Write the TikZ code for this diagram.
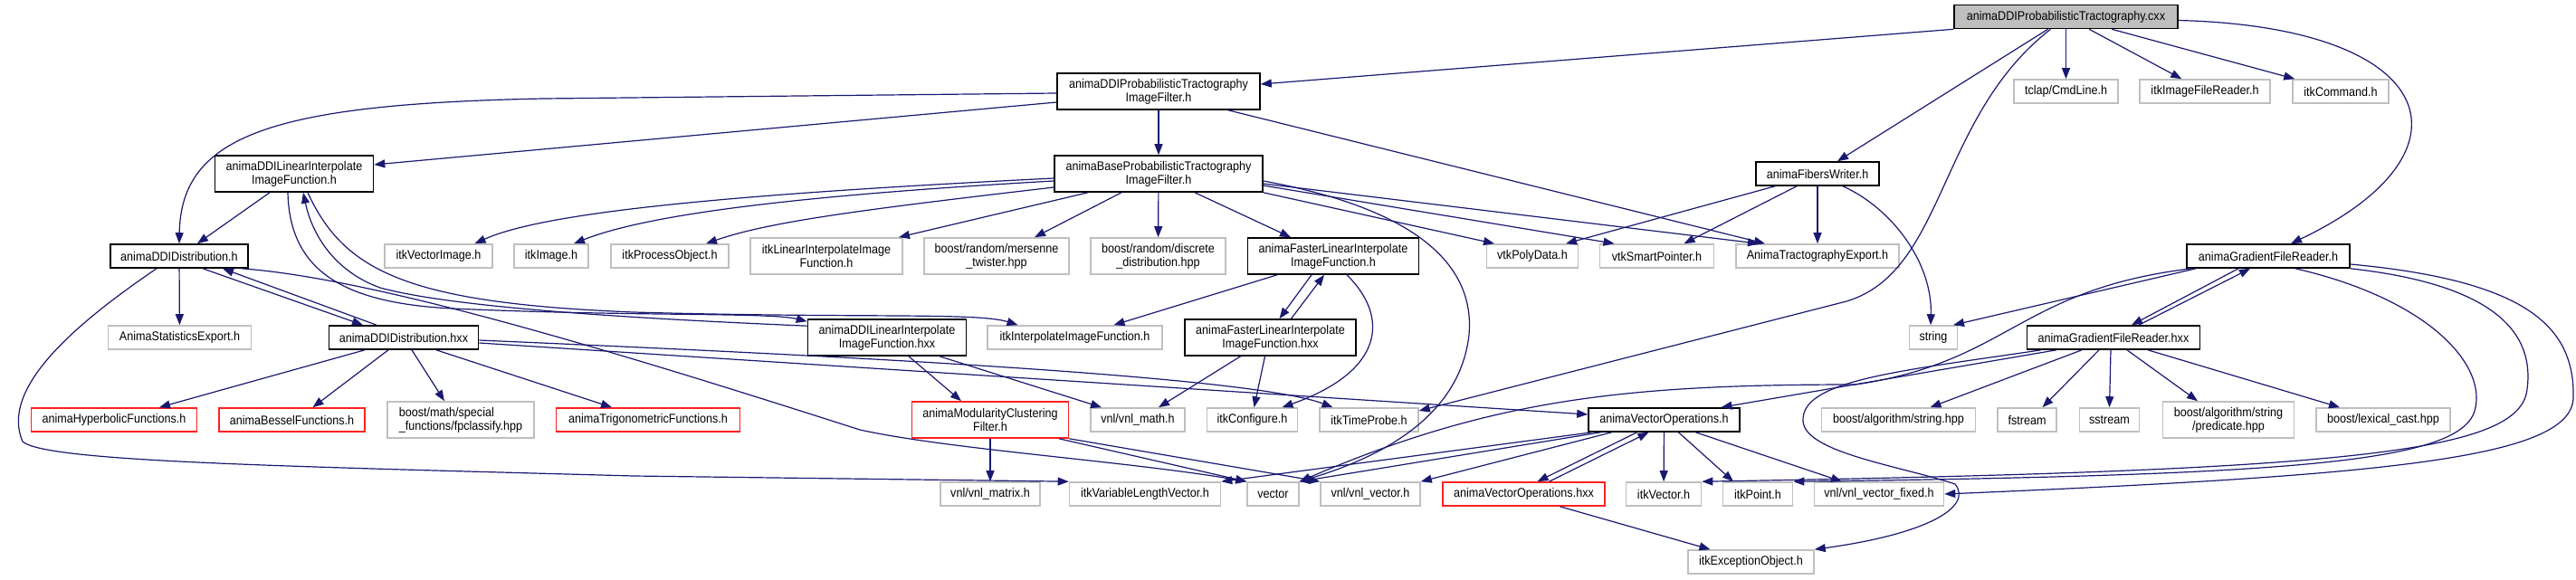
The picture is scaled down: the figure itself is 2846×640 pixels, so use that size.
\documentclass[tikz,border=0pt]{standalone}
\usepackage{fontspec}
\setmainfont{Liberation Sans}[FakeStretch=0.9]
\usepackage{tikz}
\usetikzlibrary{arrows.meta}
\definecolor{edgeblue}{HTML}{191970}
\definecolor{boxgray}{HTML}{BFBFBF}
\definecolor{boxred}{HTML}{FF2020}

\begin{document}
\begin{tikzpicture}[
        x=1pt, y=-1pt,
        box/.style={rectangle, draw, line width=1.6pt, fill=white, inner sep=0pt, align=center, font=\fontsize{14}{15}\selectfont},
        doc/.style={box, draw=black},
        ext/.style={box, draw=boxgray},
        trunc/.style={box, draw=boxred},
        root/.style={box, draw=black, fill=boxgray},
        one/.style={minimum height=26pt},
        two/.style={minimum height=40pt},
        arrow/.style={->, >={Triangle[length=12pt,width=9pt]}, draw=edgeblue, line width=1.2pt}
    ]
    \useasboundingbox (0,0) rectangle (2846,640);

    % Root file
    \node[root, one, minimum width=247pt] (cxx) at (2282.5,18.5) {animaDDIProbabilisticTractography.cxx};

    % First level
    \node[ext, one, minimum width=115pt] (tclap) at (2282.5,101) {tclap/CmdLine.h};
    \node[ext, one, minimum width=144pt] (itkIFR) at (2436,101) {itkImageFileReader.h};
    \node[ext, one, minimum width=106pt] (itkCmd) at (2586,101) {itkCommand.h};
    \node[doc, two, minimum width=224pt] (P) at (1280,101) {animaDDIProbabilisticTractography\\ImageFilter.h};

    % Second level
    \node[doc, one, minimum width=136pt] (FW) at (2008,192) {animaFibersWriter.h};
    \node[doc, two, minimum width=230pt] (B) at (1280,192) {animaBaseProbabilisticTractography\\ImageFilter.h};
    \node[doc, two, minimum width=175pt] (DL) at (325,192) {animaDDILinearInterpolate\\ImageFunction.h};

    % Third level
    \node[doc, one, minimum width=152pt] (DD) at (198,283) {animaDDIDistribution.h};
    \node[ext, one, minimum width=119pt] (itkVI) at (484.5,283) {itkVectorImage.h};
    \node[ext, one, minimum width=82pt] (itkImg) at (609,283) {itkImage.h};
    \node[ext, one, minimum width=130pt] (itkPO) at (740,283) {itkProcessObject.h};
    \node[ext, two, minimum width=168pt] (itkLII) at (913,283) {itkLinearInterpolateImage\\Function.h};
    \node[ext, two, minimum width=160pt] (mt) at (1101,283) {boost/random/mersenne\\\_twister.hpp};
    \node[ext, two, minimum width=149pt] (dd) at (1279.5,283) {boost/random/discrete\\\_distribution.hpp};
    \node[doc, two, minimum width=189pt] (FL) at (1473,283) {animaFasterLinearInterpolate\\ImageFunction.h};
    \node[ext, one, minimum width=101pt] (vtkPD) at (1693,283) {vtkPolyData.h};
    \node[ext, one, minimum width=126pt] (vtkSP) at (1830.5,283) {vtkSmartPointer.h};
    \node[ext, one, minimum width=180pt] (TE) at (2008,283) {AnimaTractographyExport.h};
    \node[doc, one, minimum width=180pt] (GR) at (2506,283) {animaGradientFileReader.h};

    % Fourth level
    \node[ext, one, minimum width=158pt] (ASE) at (198.5,373) {AnimaStatisticsExport.h};
    \node[doc, one, minimum width=165pt] (DDx) at (446,373) {animaDDIDistribution.hxx};
    \node[doc, two, minimum width=175pt] (DLx) at (980,373) {animaDDILinearInterpolate\\ImageFunction.hxx};
    \node[ext, one, minimum width=193pt] (itkIIF) at (1187.5,373) {itkInterpolateImageFunction.h};
    \node[doc, two, minimum width=189pt] (FLx) at (1403.5,373) {animaFasterLinearInterpolate\\ImageFunction.hxx};
    \node[ext, one, minimum width=53pt] (str) at (2136,373) {string};
    \node[doc, one, minimum width=191pt] (GRx) at (2335,373) {animaGradientFileReader.hxx};

    % Fifth level
    \node[trunc, one, minimum width=183pt] (hyp) at (126,464) {animaHyperbolicFunctions.h};
    \node[trunc, one, minimum width=161pt] (bes) at (322.5,464) {animaBesselFunctions.h};
    \node[ext, two, minimum width=162pt, align=left] (fpc) at (509,464) {boost/math/special\\\_functions/fpclassify.hpp};
    \node[trunc, one, minimum width=203pt] (trig) at (716,464) {animaTrigonometricFunctions.h};
    \node[trunc, two, minimum width=173pt] (mod) at (1094,464) {animaModularityClustering\\Filter.h};
    \node[ext, one, minimum width=104pt] (vmath) at (1257,464) {vnl/vnl\_math.h};
    \node[ext, one, minimum width=100pt] (itkCfg) at (1383.5,464) {itkConfigure.h};
    \node[ext, one, minimum width=109pt] (itkTP) at (1512.5,464) {itkTimeProbe.h};
    \node[doc, one, minimum width=167pt] (VO) at (1838.5,464) {animaVectorOperations.h};
    \node[ext, one, minimum width=170pt] (bas) at (2097.5,464) {boost/algorithm/string.hpp};
    \node[ext, one, minimum width=65pt] (fstr) at (2239.5,464) {fstream};
    \node[ext, one, minimum width=66pt] (sstr) at (2330.5,464) {sstream};
    \node[ext, two, minimum width=145pt] (pred) at (2462,464) {boost/algorithm/string\\/predicate.hpp};
    \node[ext, one, minimum width=148pt] (lex) at (2633,464) {boost/lexical\_cast.hpp};

    % Sixth level
    \node[ext, one, minimum width=110pt] (vmat) at (1094,546) {vnl/vnl\_matrix.h};
    \node[ext, one, minimum width=167pt] (itkVLV) at (1265,546) {itkVariableLengthVector.h};
    \node[ext, one, minimum width=57pt] (vec) at (1406.5,546) {vector};
    \node[ext, one, minimum width=110pt] (vvec) at (1514,546) {vnl/vnl\_vector.h};
    \node[trunc, one, minimum width=179pt] (VOx) at (1683.5,546) {animaVectorOperations.hxx};
    \node[ext, one, minimum width=83pt] (itkVec) at (1838,546) {itkVector.h};
    \node[ext, one, minimum width=77pt] (itkPt) at (1942,546) {itkPoint.h};
    \node[ext, one, minimum width=143pt] (vvf) at (2076,546) {vnl/vnl\_vector\_fixed.h};
    \node[ext, one, minimum width=139pt] (itkEO) at (1934.5,621) {itkExceptionObject.h};

    % Arrows from the root
    \draw[arrow] (cxx.south west) -- ([yshift=8pt]P.east);
    \draw[arrow] ([xshift=-20pt]cxx.south) -- ([xshift=22pt]FW.north);
    \draw[arrow] ([xshift=-17pt]cxx.south) .. controls (2140,130) and (2150,300) .. (2040,333) -- ([yshift=10pt]itkTP.east);
    \draw[arrow] (cxx) -- (tclap);
    \draw[arrow] (cxx) -- (itkIFR);
    \draw[arrow] (cxx) -- (itkCmd);
    \draw[arrow] ([yshift=-4pt]cxx.east) .. controls (2700,30) and (2740,170) .. ([xshift=25pt]GR.north);

    % Arrows from the filter
    \draw[arrow] ([yshift=-2pt]P.west) -- (600,109) .. controls (300,115) and (200,150) .. (DD.north);
    \draw[arrow] ([yshift=-12pt]P.west) -- ([yshift=10pt]DL.east);
    \draw[arrow] (P) -- (B);
    \draw[arrow] ([xshift=77pt]P.south) -- ([xshift=-58pt]TE.north);

    % Arrows from the base filter
    \draw[arrow] ([yshift=-5pt]B.west) .. controls (800,215) and (600,235) .. ([xshift=40pt]itkVI.north);
    \draw[arrow] ([yshift=-8pt]B.west) .. controls (900,215) and (720,235) .. ([xshift=25pt]itkImg.north);
    \draw[arrow] ([yshift=-15pt]B.west) .. controls (950,232) and (850,245) .. ([xshift=40pt]itkPO.north);
    \draw[arrow] ([xshift=-78pt]B.south) -- ([xshift=80pt]itkLII.north);
    \draw[arrow] ([xshift=-41pt]B.south) -- ([xshift=42pt]mt.north);
    \draw[arrow] (B) -- (dd);
    \draw[arrow] ([xshift=40pt]B.south) -- ([xshift=-47pt]FL.north);
    \draw[arrow] (B.south east) -- ([xshift=-42pt]vtkPD.north);
    \draw[arrow] ([yshift=-13pt]B.east) -- ([xshift=-47pt]vtkSP.north);
    \draw[arrow] ([yshift=-11pt]B.east) -- ([xshift=-65pt]TE.north);
    \draw[arrow] ([yshift=-8pt]B.east) .. controls (1560,230) and (1630,290) .. (1623,370) .. controls (1615,440) and (1560,495) .. (vec.north east);

    % DDI interpolation
    \draw[arrow] ([xshift=-27pt]DL.south) -- ([xshift=20pt]DD.north);
    \draw[arrow] ([xshift=-7pt]DL.south) .. controls (320,300) and (380,335) .. (500,341) .. controls (700,350) and (850,345) .. ([yshift=-3pt]DLx.north west);
    \draw[arrow] ([yshift=-8pt]DLx.north west) .. controls (700,352) and (500,340) .. (420,318) .. controls (370,300) and (345,260) .. ([xshift=10pt]DL.south);
    \draw[arrow] ([xshift=15pt]DL.south) .. controls (380,300) and (450,335) .. (700,345) .. controls (950,352) and (1080,345) .. ([xshift=-63pt]itkIIF.north);
    \draw[arrow] ([xshift=24pt]DLx.south) -- ([xshift=-32pt]mod.north);
    \draw[arrow] ([xshift=58pt]DLx.south) -- ([xshift=-40pt]vmath.north);

    % DDI distribution
    \draw[arrow] (DD) -- (ASE);
    \draw[arrow] ([xshift=26pt]DD.south) -- ([xshift=-45pt]DDx.north);
    \draw[arrow] ([xshift=-30pt]DDx.north) -- ([xshift=48pt]DD.south);
    \draw[arrow] ([xshift=69pt]DD.south) .. controls (420,308) and (700,395) .. (950,475) .. controls (1050,497) and (1250,510) .. (vec.north west);
    \draw[arrow] ([xshift=-25pt]DD.south) .. controls (80,360) and (0,430) .. (25,488) .. controls (50,510) and (300,515) .. (700,526) -- (itkVLV.north west);
    \draw[arrow] ([xshift=-43pt]DDx.south) -- ([xshift=50pt]hyp.north);
    \draw[arrow] ([xshift=-17pt]DDx.south) -- ([xshift=23pt]bes.north);
    \draw[arrow] ([xshift=9pt]DDx.south) -- ([xshift=-18pt]fpc.north);
    \draw[arrow] ([xshift=36pt]DDx.south) -- ([xshift=-40pt]trig.north);
    \draw[arrow] ([yshift=-3pt]DDx.east) .. controls (900,392) and (1380,415) .. ([xshift=-40pt]itkTP.north);
    \draw[arrow] ([yshift=-6pt]DDx.east) -- ([yshift=6pt]VO.west);

    % Faster interpolation
    \draw[arrow] ([xshift=-62pt]FL.south) -- ([xshift=43pt]itkIIF.north);
    \draw[arrow] ([xshift=-24pt]FL.south) -- ([xshift=10pt]FLx.north);
    \draw[arrow] ([xshift=23pt]FLx.north) -- ([xshift=-10pt]FL.south);
    \draw[arrow] ([xshift=15pt]FL.south) .. controls (1535,350) and (1530,410) .. ([xshift=33pt]itkCfg.north);
    \draw[arrow] ([xshift=-33pt]FLx.south) -- ([xshift=23pt]vmath.north);
    \draw[arrow] ([xshift=-6pt]FLx.south) -- ([xshift=2pt]itkCfg.north);

    % Fibers writer
    \draw[arrow] ([xshift=-47pt]FW.south) -- ([xshift=37pt]vtkPD.north);
    \draw[arrow] ([xshift=-23pt]FW.south) -- ([xshift=30pt]vtkSP.north);
    \draw[arrow] (FW) -- (TE);
    \draw[arrow] ([xshift=28pt]FW.south) .. controls (2090,230) and (2135,290) .. ([xshift=-3pt]str.north);

    % Gradient file reader
    \draw[arrow] ([xshift=-80pt]GR.south) -- ([xshift=22pt]str.north);
    \draw[arrow] ([xshift=-33pt]GR.south) -- ([xshift=20pt]GRx.north);
    \draw[arrow] ([xshift=28pt]GRx.north) -- ([xshift=-20pt]GR.south);
    \draw[arrow] ([xshift=-85pt]GR.south) .. controls (2230,320) and (2220,400) .. (2050,425) .. controls (1800,425) and (1650,440) .. (vec.north east);
    \draw[arrow] ([xshift=30pt]GR.south) .. controls (2680,330) and (2745,400) .. (2735,450) .. controls (2725,510) and (2550,525) .. (itkPt.north east);
    \draw[arrow] (GR.south east) .. controls (2760,315) and (2800,370) .. (2792,430) .. controls (2785,500) and (2600,520) .. (itkVec.north east);
    \draw[arrow] ([yshift=-9pt]GR.east) .. controls (2790,310) and (2845,360) .. (2843,440) .. controls (2840,505) and (2650,525) .. (vvf.east);
    \draw[arrow] ([xshift=-63pt]GRx.south) -- ([xshift=63pt]VO.north);
    \draw[arrow] ([xshift=-80pt]GRx.south) .. controls (2100,410) and (1990,420) .. (1992,465) .. controls (1993,500) and (2100,515) .. (2160,535) .. controls (2180,560) and (2130,590) .. (itkEO.north east);
    \draw[arrow] ([xshift=-35pt]GRx.south) -- ([xshift=35pt]bas.north);
    \draw[arrow] ([xshift=-16pt]GRx.south) -- ([xshift=17pt]fstr.north);
    \draw[arrow] ([xshift=-3pt]GRx.south) -- (sstr.north);
    \draw[arrow] ([xshift=15pt]GRx.south) -- ([xshift=-34pt]pred.north);
    \draw[arrow] ([xshift=38pt]GRx.south) -- ([xshift=-48pt]lex.north);

    % Vector operations
    \draw[arrow] ([xshift=-80pt]VO.south) -- (itkVLV.north east);
    \draw[arrow] ([xshift=-70pt]VO.south) -- (vec.north east);
    \draw[arrow] ([xshift=-58pt]VO.south) -- (vvec.north east);
    \draw[arrow] ([xshift=-30pt]VO.south) -- ([xshift=15pt]VOx.north);
    \draw[arrow] ([xshift=28pt]VOx.north) -- ([xshift=-17pt]VO.south);
    \draw[arrow] (VO) -- (itkVec);
    \draw[arrow] ([xshift=16pt]VO.south) -- ([xshift=-27pt]itkPt.north);
    \draw[arrow] ([xshift=35pt]VO.south) -- ([xshift=-41pt]vvf.north);
    \draw[arrow] ([xshift=40pt]VOx.south) -- ([xshift=-45pt]itkEO.north);

    % Clustering filter
    \draw[arrow] (mod) -- (vmat);
    \draw[arrow] ([xshift=76pt]mod.south) -- (vec.north west);
    \draw[arrow] (mod.south east) -- (vvec.north west);

\end{tikzpicture}
\end{document}
